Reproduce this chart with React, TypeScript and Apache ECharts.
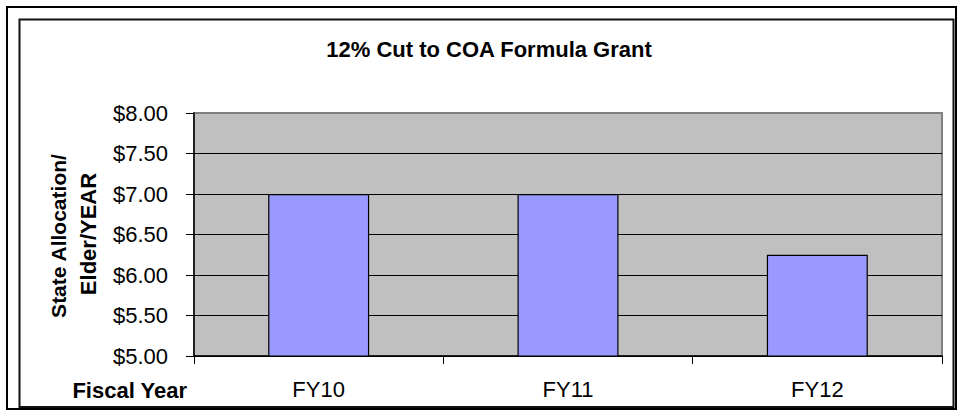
import React, { useEffect, useRef } from "react";
import * as echarts from "echarts";

const categories = ["FY10", "FY11", "FY12"];
const allocation = [7.0, 7.0, 6.25];
const titleText = "12% Cut to COA Formula Grant";
const yNameLines = ["State Allocation/", "Elder/YEAR"];
const xName = "Fiscal Year";

const FONT = "'Liberation Sans', Arial, sans-serif";

export default function App() {
  const ref = useRef<HTMLDivElement>(null);
  useEffect(() => {
    if (!ref.current) return;
    const chart = echarts.init(ref.current, null, { renderer: "svg" });
    chart.setOption({
      animation: false,
      backgroundColor: "#ffffff",
      grid: {
        left: 194,
        top: 113,
        right: 16,
        bottom: 58,
        show: true,
        backgroundColor: "#C0C0C0",
        borderColor: "#808080",
        borderWidth: 2,
      },
      xAxis: {
        type: "category",
        data: categories,
        axisLine: { lineStyle: { color: "#000", width: 1.5 } },
        axisTick: { show: true, length: 8, lineStyle: { color: "#000" } },
        axisLabel: { color: "#000", fontFamily: FONT, fontSize: 22, margin: 22 },
        splitLine: { show: false },
      },
      yAxis: {
        type: "value",
        min: 5,
        max: 8,
        interval: 0.5,
        axisLine: { show: true, lineStyle: { color: "#000", width: 1.5 } },
        axisTick: { show: true, length: 8, lineStyle: { color: "#000" } },
        axisLabel: {
          color: "#000",
          fontFamily: FONT,
          fontSize: 22,
          margin: 26,
          formatter: (v: number) => "$" + v.toFixed(2),
        },
        splitLine: { show: true, showMaxLine: false, lineStyle: { color: "#000", width: 1 } },
      },
      series: [
        {
          type: "bar",
          data: allocation,
          barWidth: "40.5%",
          itemStyle: { color: "#9999FF", borderColor: "#000", borderWidth: 1.2 },
        },
      ],
      graphic: [
        {
          type: "rect",
          shape: { x: 7, y: 7, width: 949, height: 402 },
          style: { fill: "none", stroke: "#000", lineWidth: 2 },
          silent: true,
        },
        {
          type: "rect",
          shape: { x: 19.5, y: 19.5, width: 934, height: 387.5 },
          style: { fill: "none", stroke: "#111", lineWidth: 2 },
          silent: true,
        },
        {
          type: "text",
          x: 489,
          y: 49,
          style: {
            text: titleText,
            fontFamily: FONT,
            fontSize: 22,
            fontWeight: "bold",
            fill: "#000",
            textAlign: "center",
            textVerticalAlign: "middle",
          },
        },
        {
          type: "text",
          x: 187,
          y: 390,
          style: {
            text: xName,
            fontFamily: FONT,
            fontSize: 22,
            fontWeight: "bold",
            fill: "#000",
            textAlign: "right",
            textVerticalAlign: "middle",
          },
        },
        {
          type: "text",
          x: 58,
          y: 236,
          rotation: Math.PI / 2,
          style: {
            text: yNameLines[0],
            fontFamily: FONT,
            fontSize: 21,
            fontWeight: "bold",
            fill: "#000",
            textAlign: "center",
            textVerticalAlign: "middle",
          },
        },
        {
          type: "text",
          x: 88,
          y: 234,
          rotation: Math.PI / 2,
          style: {
            text: yNameLines[1],
            fontFamily: FONT,
            fontSize: 22,
            fontWeight: "bold",
            fill: "#000",
            textAlign: "center",
            textVerticalAlign: "middle",
          },
        },
      ],
    });
    return () => chart.dispose();
  }, []);
  return (
    <div
      ref={ref}
      style={{ position: "fixed", left: 0, top: 0, width: 958, height: 414 }}
    />
  );
}
